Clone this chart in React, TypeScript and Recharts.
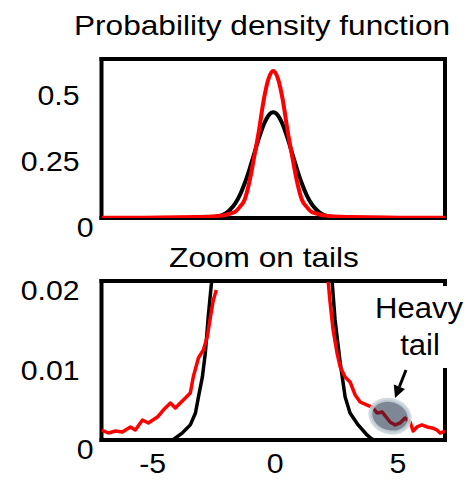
import React from 'react';
import { LineChart, Line, XAxis, YAxis, ReferenceDot, ReferenceLine } from 'recharts';

const FONT = '"Liberation Sans", Arial, Helvetica, sans-serif';

// ---------- Top panel: probability density function ----------
const pdfX = [-9, -7, -6, -5, -4, -3.5, -3, -2.75, -2.5, -2.25, -2, -1.75, -1.5, -1.25, -1, -0.75, -0.5, -0.25, 0,
  0.25, 0.5, 0.75, 1, 1.25, 1.5, 1.75, 2, 2.25, 2.5, 2.75, 3, 3.5, 4, 5, 6, 7, 9];
const gaussianPdf = [0, 0, 0, 0, 0.0001, 0.0009, 0.0044, 0.009, 0.0175, 0.032, 0.054, 0.086, 0.13, 0.183, 0.242, 0.301, 0.352, 0.387, 0.399,
  0.387, 0.352, 0.301, 0.242, 0.183, 0.13, 0.086, 0.054, 0.032, 0.0175, 0.009, 0.0044, 0.0009, 0.0001, 0, 0, 0, 0];
const heavyPdf = [0.0008, 0.0012, 0.0015, 0.0025, 0.004, 0.005, 0.007, 0.009, 0.0115, 0.017, 0.023, 0.042, 0.069, 0.136, 0.23, 0.33, 0.445, 0.525, 0.555,
  0.525, 0.445, 0.33, 0.23, 0.136, 0.069, 0.042, 0.023, 0.017, 0.0115, 0.009, 0.007, 0.005, 0.004, 0.0025, 0.0015, 0.0012, 0.0008];
const topXDomain = [-9, 9];
const topYDomain = [0, 0.6];
const topYTicks = [0, 0.25, 0.5];
const topYLabels = ['0', '0.25', '0.5'];

// ---------- Bottom panel: zoom on tails ----------
const gaussTailX = [-7, -4.1, -3.7, -3.38, -3.17, -3.05, -2.89, -2.77, -2.65, -2.52, -2.3, 0, 2.3, 2.4, 2.52, 2.73, 2.93, 3.13, 3.46, 3.83, 3.95, 4.1, 7];
const gaussTailY = [0, 0, 0.0009, 0.0019, 0.0034, 0.0054, 0.0079, 0.0109, 0.0155, 0.0197, 0.03, 0.4, 0.03, 0.0199, 0.0151, 0.0097, 0.0054, 0.0034, 0.0019, 0.0006, 0.0003, 0, 0];

const heavyLeftX = [-7, -6.72, -6.43, -6.15, -5.82, -5.62, -5.33, -5.09, -4.72, -4.48, -4.19, -3.99, -3.79, -3.58, -3.38, -3.26, -3.05, -2.85, -2.69, -2.56, -2.44, -2.32];
const heavyLeftY = [0.00126, 0.00088, 0.00113, 0.00101, 0.00164, 0.00126, 0.00252, 0.00214, 0.00289, 0.00377, 0.00465, 0.00403, 0.00465, 0.00528, 0.00591, 0.00793, 0.01032, 0.01132, 0.01296, 0.01547, 0.01761, 0.01887];

const heavyRightX = [2.24, 2.32, 2.44, 2.6, 2.73, 2.93, 3.13, 3.34, 3.54, 3.83, 4.03, 4.23, 4.44, 4.6, 4.76, 4.97, 5.17, 5.37, 5.58, 5.7, 5.86, 6.06, 6.27, 6.47, 6.67, 6.8, 7.0];
const heavyRightY = [0.0199, 0.01723, 0.01384, 0.01094, 0.00918, 0.00793, 0.0073, 0.00566, 0.00478, 0.0044, 0.00415, 0.0034, 0.00352, 0.00289, 0.00226, 0.00189, 0.00214, 0.00277, 0.00226, 0.00113, 0.00164, 0.00189, 0.00164, 0.00151, 0.00126, 0.00088, 0.00113];

const zoomXDomain = [-7, 7];
const zoomYDomain = [0, 0.02];
const zoomYTicks = [0, 0.01, 0.02];
const zoomYLabels = ['0', '0.01', '0.02'];
const zoomXTicks = [-5, 0, 5];
const zoomXLabels = ['-5', '0', '5'];

const titles = ['Probability density function', 'Zoom on tails'];
const annotationLines = ['Heavy', 'tail'];
const heavyTailSpot = { x: 4.76, y: 0.003 };

const zip = (xs: number[], ys: number[]) => xs.map((x, i) => ({ x, y: ys[i] }));

const topGauss = zip(pdfX, gaussianPdf);
const topHeavy = zip(pdfX, heavyPdf);
const zoomGauss = zip(gaussTailX, gaussTailY);
const zoomLeft = zip(heavyLeftX, heavyLeftY);
const zoomRight = zip(heavyRightX, heavyRightY);

const BORDER = { stroke: '#000', strokeWidth: 4, strokeLinecap: 'square' as const };

const makeYTick = (ticks: number[], labels: string[]) => (props: any) => {
  const { x, y, payload } = props;
  const idx = ticks.indexOf(payload.value);
  const label = idx >= 0 ? labels[idx] : String(payload.value);
  const tx = x - 22 + (payload.value === 0 ? 14 : 0);
  return (
    <text transform={`translate(${tx},${y + 19}) scale(1.08,1)`} textAnchor="end" fontSize={28} fontFamily={FONT} fill="#000">
      {label}
    </text>
  );
};

const makeXTick = (ticks: number[], labels: string[]) => (props: any) => {
  const { x, y, payload } = props;
  const idx = ticks.indexOf(payload.value);
  const label = idx >= 0 ? labels[idx] : String(payload.value);
  return (
    <text transform={`translate(${x + 2},${y + 33}) scale(1.08,1)`} textAnchor="middle" fontSize={28} fontFamily={FONT} fill="#000">
      {label}
    </text>
  );
};

const EllipseMark = (props: any) => {
  const { cx, cy } = props;
  if (cx == null || cy == null) return null;
  return (
    <g transform={`rotate(18 ${cx} ${cy})`}>
      <ellipse cx={cx} cy={cy} rx={20} ry={16} fill="#14243f" fillOpacity={0.55} stroke="#c9d3d9" strokeOpacity={0.85} strokeWidth={4} />
    </g>
  );
};

export default function App() {
  return (
    <div style={{ position: 'absolute', left: 0, top: 0, width: 467, height: 480, background: '#fff' }}>
      <div style={{ position: 'absolute', left: 0, top: 240 }}>
        <LineChart width={467} height={240} margin={{ top: 41, right: 22, bottom: 0, left: 0 }}>
          <XAxis dataKey="x" type="number" domain={zoomXDomain} allowDataOverflow height={40} ticks={zoomXTicks} interval={0}
            tickSize={0} tickMargin={0} tickLine={false} axisLine={BORDER} tick={makeXTick(zoomXTicks, zoomXLabels)} />
          <YAxis type="number" domain={zoomYDomain} allowDataOverflow width={101.5} ticks={zoomYTicks} interval={0}
            tickSize={0} tickMargin={0} tickLine={false} axisLine={BORDER} tick={makeYTick(zoomYTicks, zoomYLabels)} />
          <ReferenceLine y={zoomYDomain[1]} {...BORDER} />
          <ReferenceLine x={zoomXDomain[1]} {...BORDER} />
          <Line data={zoomGauss} dataKey="y" type="linear" stroke="#000" strokeWidth={3.5} dot={false} isAnimationActive={false} strokeLinejoin="round" zIndex={800} />
          <Line data={zoomLeft} dataKey="y" type="linear" stroke="#ff0000" strokeWidth={3.5} dot={false} isAnimationActive={false} strokeLinejoin="round" zIndex={810} />
          <Line data={zoomRight} dataKey="y" type="linear" stroke="#ff0000" strokeWidth={3.5} dot={false} isAnimationActive={false} strokeLinejoin="round" zIndex={810} />
          <ReferenceDot x={heavyTailSpot.x} y={heavyTailSpot.y} r={20} shape={EllipseMark} zIndex={2000} />
        </LineChart>
      </div>
      <div style={{ position: 'absolute', left: 0, top: 0 }}>
        <LineChart width={467} height={252} margin={{ top: 59, right: 22, bottom: 0, left: 0 }}>
          <XAxis dataKey="x" type="number" domain={topXDomain} allowDataOverflow height={34} tick={false} tickLine={false} axisLine={BORDER} />
          <YAxis type="number" domain={topYDomain} allowDataOverflow width={101.5} ticks={topYTicks} interval={0}
            tickSize={0} tickMargin={0} tickLine={false} axisLine={BORDER} tick={makeYTick(topYTicks, topYLabels)} />
          <ReferenceLine y={topYDomain[1]} {...BORDER} />
          <ReferenceLine x={topXDomain[1]} {...BORDER} />
          <Line data={topGauss} dataKey="y" type="monotone" stroke="#000" strokeWidth={4} dot={false} isAnimationActive={false} zIndex={800} />
          <Line data={topHeavy} dataKey="y" type="monotone" stroke="#ff0000" strokeWidth={4} dot={false} isAnimationActive={false} zIndex={810} />
        </LineChart>
      </div>
      <svg width={467} height={480} style={{ position: 'absolute', left: 0, top: 0, pointerEvents: 'none' }}>
        <text transform="translate(262,35) scale(1.13,1)" textAnchor="middle" fontSize={28} fontFamily={FONT} fill="#000">{titles[0]}</text>
        <text transform="translate(264,267) scale(1.13,1)" textAnchor="middle" fontSize={28} fontFamily={FONT} fill="#000">{titles[1]}</text>
        <rect x={368} y={286} width={99} height={82} fill="#fff" />
        <text transform="translate(419,318) scale(1.07,1)" textAnchor="middle" fontSize={29} fontFamily={FONT} fill="#000">{annotationLines[0]}</text>
        <text transform="translate(420,355) scale(1.07,1)" textAnchor="middle" fontSize={29} fontFamily={FONT} fill="#000">{annotationLines[1]}</text>
        <line x1={406} y1={370} x2={399.4} y2={386.8} stroke="#000" strokeWidth={3} />
        <polygon points="395,398 405,389 393.8,384.6" fill="#000" />
      </svg>
    </div>
  );
}
